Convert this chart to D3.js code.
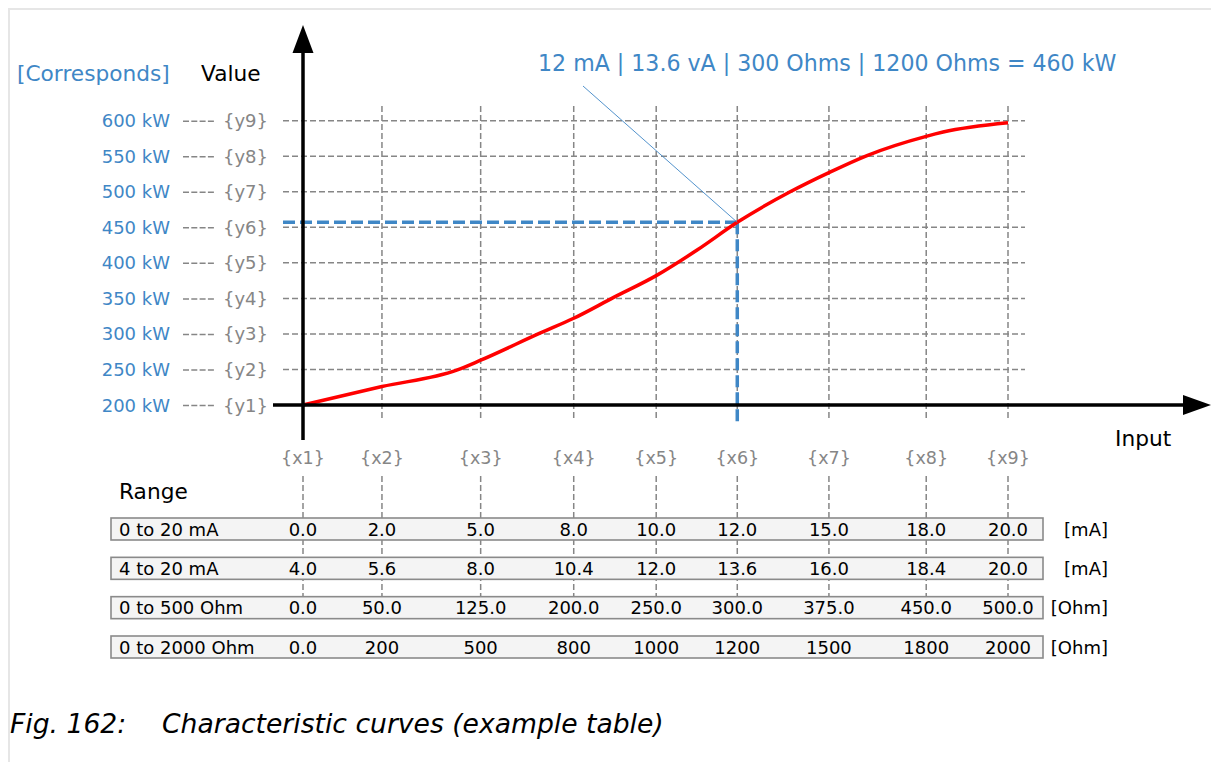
<!DOCTYPE html>
<html>
<head>
<meta charset="utf-8">
<script src="https://cdn.jsdelivr.net/npm/d3@7"></script>
<style>
  html, body { margin: 0; padding: 0; background: #ffffff; }
  svg { display: block; }
  text { font-family: "DejaVu Sans", sans-serif; }
</style>
</head>
<body>
<svg id="chart" width="1211" height="762"></svg>
<script>
// ---------------- data ----------------
const xLabels = ["{x1}", "{x2}", "{x3}", "{x4}", "{x5}", "{x6}", "{x7}", "{x8}", "{x9}"];
// position of each input stop along the input axis (% of axis span)
const xStops = [0, 11.2, 25.2, 38.4, 50.1, 61.6, 74.6, 88.4, 100];

const yLabels = ["{y1}", "{y2}", "{y3}", "{y4}", "{y5}", "{y6}", "{y7}", "{y8}", "{y9}"];
const yValues = [200, 250, 300, 350, 400, 450, 500, 550, 600];
const yValueLabels = ["200 kW", "250 kW", "300 kW", "350 kW", "400 kW", "450 kW", "500 kW", "550 kW", "600 kW"];

// characteristic curve (input position %, value kW)
const curveInput = [0, 11.2, 21.8, 25.2, 33.6, 38.4, 44.0, 50.1, 55.9, 61.6, 69.1, 74.6, 80.0, 88.4, 90.8, 100];
const curveKW    = [200, 226, 249, 263, 301, 322, 351, 382, 418, 457, 500, 527, 551, 578, 584, 597];

// highlighted operating point
const markInput = 61.6;
const markKW = 457;
const markText = "12 mA | 13.6 vA | 300 Ohms | 1200 Ohms = 460 kW";

const rangeNames = ["0 to 20 mA", "4 to 20 mA", "0 to 500 Ohm", "0 to 2000 Ohm"];
const rangeUnits = ["[mA]", "[mA]", "[Ohm]", "[Ohm]"];
const range0to20mA   = ["0.0", "2.0", "5.0", "8.0", "10.0", "12.0", "15.0", "18.0", "20.0"];
const range4to20mA   = ["4.0", "5.6", "8.0", "10.4", "12.0", "13.6", "16.0", "18.4", "20.0"];
const range0to500    = ["0.0", "50.0", "125.0", "200.0", "250.0", "300.0", "375.0", "450.0", "500.0"];
const range0to2000   = ["0.0", "200", "500", "800", "1000", "1200", "1500", "1800", "2000"];
const rangeValues = [range0to20mA, range4to20mA, range0to500, range0to2000];

const captionNumber = "Fig. 162:";
const captionText = "Characteristic curves (example table)";

// ---------------- drawing ----------------
const svg = d3.select("#chart");
const BLUE = "#3f87c6";
const GRAY = "#868686";

const x = d3.scaleLinear().domain([0, 100]).range([303, 1008]);
const y = d3.scaleLinear().domain([200, 600]).range([405, 120.7]);

// figure frame
svg.append("rect").attr("x", 9).attr("y", 9).attr("width", 1220).attr("height", 770)
  .attr("fill", "none").attr("stroke", "#e6e6e6").attr("stroke-width", 2);

// grid
const grid = svg.append("g").attr("stroke", GRAY).attr("stroke-width", 1.5).attr("stroke-dasharray", "6,3").attr("fill", "none");
grid.selectAll("line.h").data(yValues).join("line").attr("class", "h")
  .attr("x1", 283).attr("x2", 1025).attr("y1", d => y(d)).attr("y2", d => y(d));
grid.selectAll("line.v").data(xStops).join("line").attr("class", "v")
  .attr("x1", d => x(d)).attr("x2", d => x(d)).attr("y1", 106).attr("y2", 421);
grid.selectAll("line.vt").data(xStops).join("line").attr("class", "vt")
  .attr("x1", d => x(d)).attr("x2", d => x(d)).attr("y1", 476).attr("y2", 596);

// y labels
const yl = svg.append("g");
yl.selectAll("text.kw").data(yValues).join("text").attr("class", "kw")
  .attr("x", 170).attr("y", d => y(d) + 6.5).attr("text-anchor", "end")
  .attr("font-size", 18).attr("fill", BLUE).text((d, i) => yValueLabels[i]);
yl.selectAll("line.con").data(yValues).join("line").attr("class", "con")
  .attr("x1", 183).attr("x2", 214).attr("y1", d => y(d) + 0.5).attr("y2", d => y(d) + 0.5)
  .attr("stroke", GRAY).attr("stroke-width", 1.5).attr("stroke-dasharray", "6,2.3");
yl.selectAll("text.yl").data(yValues).join("text").attr("class", "yl")
  .attr("x", 223).attr("y", d => y(d) + 6.5)
  .attr("font-size", 18).attr("fill", GRAY).text((d, i) => yLabels[i]);

// x labels
svg.append("g").selectAll("text").data(xStops).join("text")
  .attr("x", d => x(d)).attr("y", 464).attr("text-anchor", "middle")
  .attr("font-size", 17.5).attr("fill", GRAY).text((d, i) => xLabels[i]);

// highlight dashed lines
svg.append("line").attr("x1", 283).attr("x2", x(markInput)).attr("y1", y(markKW)).attr("y2", y(markKW))
  .attr("stroke", BLUE).attr("stroke-width", 3.5).attr("stroke-dasharray", "12,5");
svg.append("line").attr("x1", x(markInput)).attr("x2", x(markInput)).attr("y1", y(markKW)).attr("y2", 422)
  .attr("stroke", BLUE).attr("stroke-width", 3.5).attr("stroke-dasharray", "12,5");

// curve
const line = d3.line().x(d => x(d[0])).y(d => y(d[1])).curve(d3.curveMonotoneX);
svg.append("path").datum(curveInput.map((v, i) => [v, curveKW[i]]))
  .attr("d", line).attr("fill", "none").attr("stroke", "#ff0000").attr("stroke-width", 3.5)
  .attr("stroke-linejoin", "round");

// axes
svg.append("line").attr("x1", 273).attr("x2", 1186).attr("y1", 405).attr("y2", 405)
  .attr("stroke", "#000").attr("stroke-width", 3.5);
svg.append("path").attr("d", "M1183,395 L1211,405 L1183,415 Z").attr("fill", "#000");
svg.append("line").attr("x1", 303).attr("x2", 303).attr("y1", 440).attr("y2", 50)
  .attr("stroke", "#000").attr("stroke-width", 3.5);
svg.append("path").attr("d", "M292.5,53 L303,25 L313.5,53 Z").attr("fill", "#000");

// annotation
svg.append("line").attr("x1", 583).attr("y1", 86).attr("x2", x(markInput)).attr("y2", y(markKW))
  .attr("stroke", BLUE).attr("stroke-width", 0.9);
svg.append("text").attr("x", 538).attr("y", 71).attr("font-size", 22.1).attr("fill", BLUE).text(markText);

// axis titles
svg.append("text").attr("x", 17).attr("y", 81).attr("font-size", 21.7).attr("fill", BLUE).text("[Corresponds]");
svg.append("text").attr("x", 201).attr("y", 81).attr("font-size", 21.7).attr("fill", "#000").text("Value");
svg.append("text").attr("x", 1115).attr("y", 446).attr("font-size", 21.7).attr("fill", "#000").text("Input");
svg.append("text").attr("x", 119).attr("y", 499).attr("font-size", 21.7).attr("fill", "#000").text("Range");

// table
const rowY = d3.scaleLinear().domain([0, rangeNames.length - 1]).range([518, 636]);
const rows = svg.append("g").selectAll("g").data(rangeNames).join("g")
  .attr("transform", (d, i) => `translate(0,${rowY(i)})`);
rows.append("rect").attr("x", 111).attr("y", 0).attr("width", 932).attr("height", 22)
  .attr("fill", "#f4f4f4").attr("stroke", "#8a8a8a").attr("stroke-width", 1.6);
rows.append("text").attr("x", 119).attr("y", 17.5).attr("font-size", 18).attr("fill", "#000").text(d => d);
rows.append("text").attr("x", 1108).attr("y", 17.5).attr("text-anchor", "end").attr("font-size", 18)
  .attr("fill", "#000").text((d, i) => rangeUnits[i]);
rows.each(function(d, i) {
  d3.select(this).selectAll("text.v").data(rangeValues[i]).join("text").attr("class", "v")
    .attr("x", (v, j) => x(xStops[j])).attr("y", 17.5).attr("text-anchor", "middle")
    .attr("font-size", 18).attr("fill", "#000").text(v => v);
});

// caption
svg.append("text").attr("x", 10).attr("y", 733).attr("font-size", 26.6).attr("font-style", "italic")
  .attr("fill", "#000").text(captionNumber);
svg.append("text").attr("x", 162).attr("y", 733).attr("font-size", 26.6).attr("font-style", "italic")
  .attr("fill", "#000").text(captionText);
</script>
</body>
</html>
